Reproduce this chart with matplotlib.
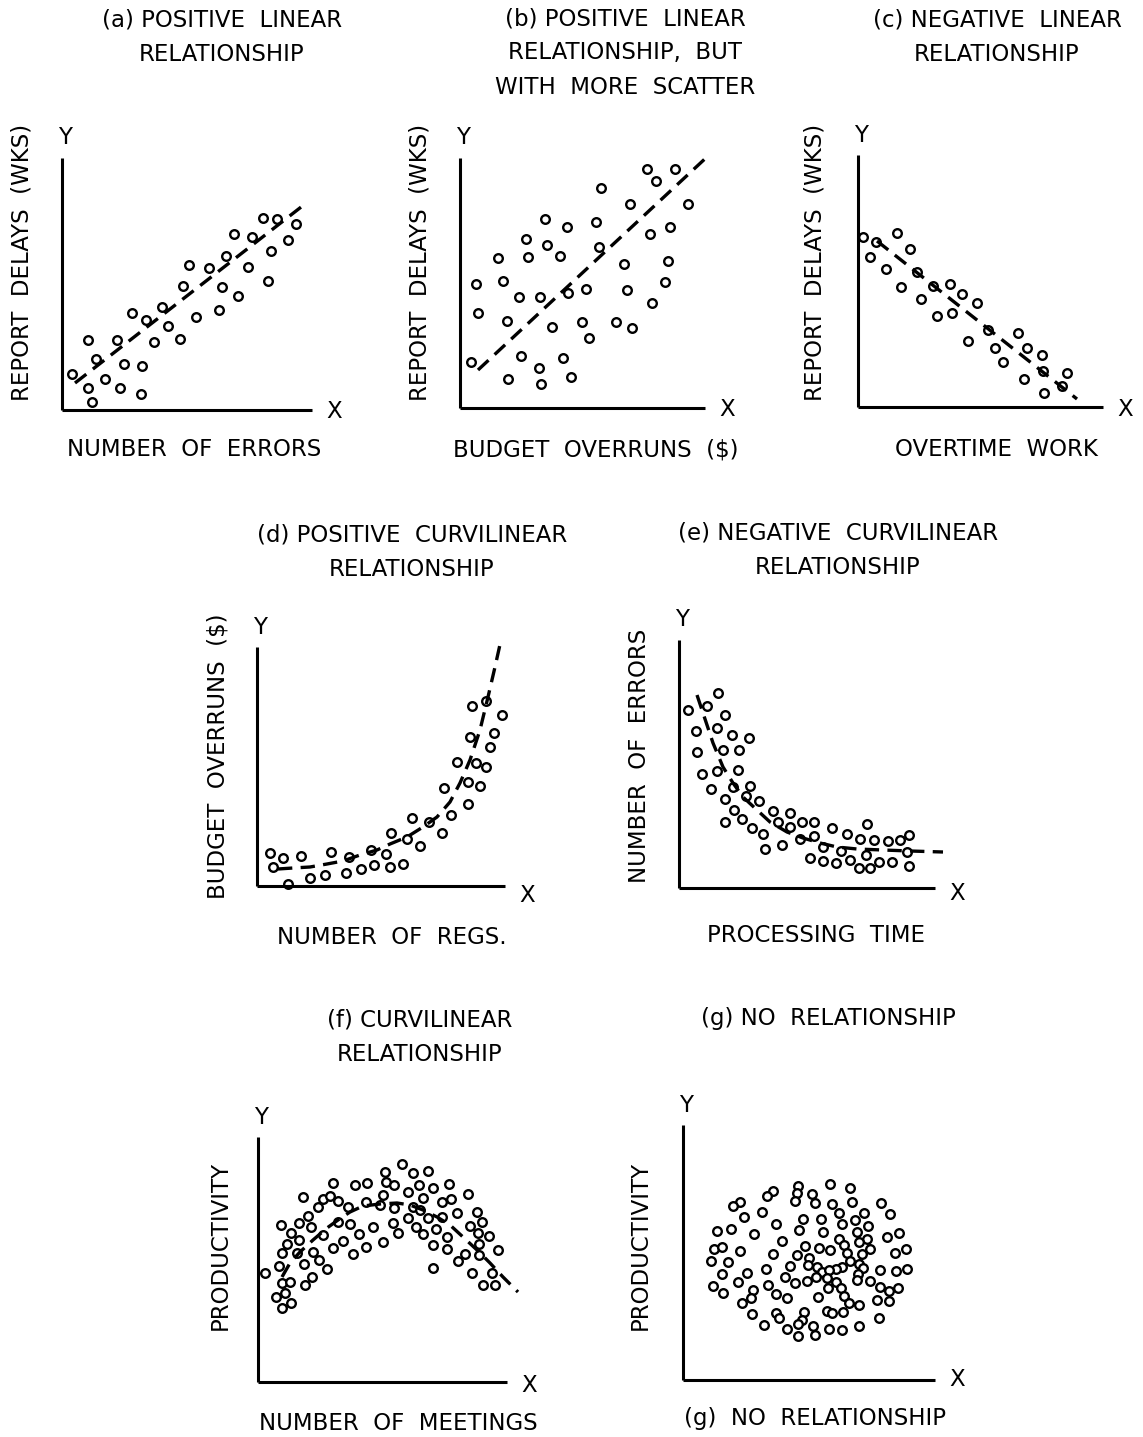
import matplotlib
matplotlib.use("Agg")
import matplotlib.pyplot as plt

FIG_W, FIG_H = 1143, 1437
DPI = 100
FONT = 16.5
AXIS_LW = 2.2

plt.rcParams["font.family"] = ["DejaVu Sans"]

# ---- (a) positive linear ----
a_x = [10, 26, 34, 26, 30, 43, 55, 62, 58, 70, 80, 79, 84, 92, 100, 106, 118, 121, 127, 134,
       147, 157, 160, 164, 172, 176, 186, 190, 201, 206, 209, 215, 226, 234]
a_y = [36, 70, 51, 22, 8, 31, 70, 46, 22, 97, 44, 16, 90, 68, 103, 84, 71, 124, 145, 93,
       142, 100, 123, 154, 176, 114, 143, 173, 192, 129, 159, 191, 170, 186]
a_fit_x = [13, 243]
a_fit_y = [27, 206]

# ---- (b) positive linear, more scatter ----
b_x = [11, 16, 18, 38, 43, 47, 48, 59, 61, 66, 68, 79, 80, 81, 85, 87, 92, 100, 103, 107, 108,
       111, 122, 126, 129, 136, 139, 141, 156, 164, 167, 170, 172, 187, 190, 192, 196, 205, 208,
       210, 215, 228]
b_y = [46, 124, 95, 150, 127, 87, 29, 111, 52, 169, 151, 40, 111, 24, 189, 163, 81, 152, 50, 181,
       115, 31, 86, 119, 70, 186, 161, 220, 86, 144, 118, 204, 80, 239, 174, 105, 227, 126, 147,
       181, 239, 204]
b_fit_x = [18, 248]
b_fit_y = [38, 252]

# ---- (c) negative linear ----
c_x = [5, 12, 18, 28, 39, 43, 52, 59, 63, 75, 79, 92, 94, 104, 110, 119, 130, 137, 145, 160, 166,
       169, 184, 186, 185, 204, 209]
c_y = [170, 150, 165, 138, 174, 120, 158, 135, 108, 121, 91, 123, 94, 113, 66, 104, 77, 59, 45,
       74, 28, 59, 52, 14, 36, 21, 34]
c_fit_x = [19, 219]
c_fit_y = [166, 8]

# ---- (d) positive curvilinear ----
d_x = [13, 16, 26, 31, 44, 53, 68, 74, 89, 92, 104, 114, 117, 129, 133, 134, 146, 150, 155, 163,
       172, 185, 187, 194, 200, 211, 211, 213, 215, 219, 223, 229, 229, 233, 237, 245]
d_y = [33, 19, 28, 2, 30, 8, 11, 34, 13, 29, 17, 36, 21, 32, 19, 53, 22, 47, 68, 40,
       64, 53, 98, 71, 124, 82, 104, 149, 180, 123, 100, 119, 185, 139, 153, 171]
d_curve_x = [21, 36, 53, 70, 86, 103, 120, 133, 150, 166, 180, 193, 203, 213, 223, 231, 238, 244]
d_curve_y = [17, 18, 19, 22, 25, 31, 36, 42, 49, 59, 69, 84, 103, 126, 156, 189, 219, 246]

# ---- (e) negative curvilinear ----
e_x = [9, 28, 39, 17, 38, 46, 18, 44, 53, 60, 70, 23, 38, 59, 32, 54, 71, 46, 67, 80, 55, 46, 63,
       73, 84, 86, 94, 99, 103, 111, 111, 121, 123, 135, 135, 131, 144, 144, 153, 157, 162, 168,
       171, 180, 181, 187, 188, 191, 195, 200, 209, 213, 221, 228, 230, 230]
e_y = [178, 182, 195, 157, 160, 173, 136, 138, 153, 138, 150, 114, 117, 118, 99, 101, 102, 89, 92,
       87, 78, 66, 69, 60, 54, 39, 77, 66, 43, 75, 61, 49, 66, 66, 52, 30, 41, 27, 60, 25, 37, 54,
       28, 20, 49, 33, 64, 20, 48, 26, 47, 26, 48, 36, 53, 22]
e_curve_x = [18, 24, 34, 44, 54, 64, 78, 91, 108, 124, 141, 158, 178, 204, 231, 264]
e_curve_y = [193, 175, 145, 121, 105, 91, 78, 66, 56, 50, 45, 41, 39, 38, 37, 36]

# ---- (f) curvilinear (inverted U) ----
f_x = [7, 21, 23, 24, 29, 33, 24, 32, 18, 27, 39, 41, 41, 45, 46, 50, 53, 47, 54, 55, 61, 60, 65,
       65, 69, 72, 75, 75, 80, 80, 85, 90, 92, 95, 97, 101, 108, 109, 108, 115, 122, 125, 125, 127,
       128, 136, 136, 135, 140, 144, 150, 150, 155, 155, 158, 161, 165, 165, 170, 170, 175, 175,
       175, 178, 184, 189, 189, 191, 193, 199, 200, 207, 210, 212, 214, 219, 220, 221, 221, 224,
       225, 231, 234, 237, 240, 184, 162, 24, 33]
f_y = [109, 116, 157, 129, 138, 149, 99, 100, 85, 89, 129, 142, 159, 185, 118, 166, 155, 97, 105,
       130, 122, 175, 183, 147, 113, 186, 199, 134, 181, 160, 141, 175, 158, 128, 197, 148, 180,
       199, 135, 155, 177, 140, 187, 210, 200, 197, 174, 159, 149, 218, 190, 164, 175, 209, 155,
       197, 184, 148, 164, 211, 194, 137, 114, 153, 180, 145, 133, 198, 183, 169, 121, 128, 188,
       156, 109, 170, 149, 138, 127, 160, 97, 146, 109, 97, 132, 165, 172, 74, 79]
f_curve_x = [24, 32, 42, 55, 69, 80, 92, 105, 122, 139, 152, 165, 179, 192, 205, 219, 232, 245, 260]
f_curve_y = [105, 119, 130, 142, 154, 162, 170, 176, 178, 179, 177, 172, 165, 157, 145, 132, 119,
             105, 90]

# ---- (g) no relationship ----
g_x = [115, 147, 167, 90, 84, 114, 129, 112, 132, 57, 50, 149, 169, 198, 79, 61, 156, 181, 207,
       120, 138, 172, 93, 159, 185, 34, 48, 116, 140, 174, 71, 204, 216, 156, 184, 176, 99, 31,
       39, 57, 122, 136, 147, 161, 187, 223, 90, 114, 164, 179, 212, 28, 45, 126, 167, 125, 176,
       107, 159, 153, 180, 134, 139, 146, 83, 39, 64, 197, 213, 224, 175, 144, 133, 102, 124, 112,
       174, 187, 55, 30, 85, 153, 158, 197, 145, 215, 40, 70, 68, 93, 104, 135, 161, 206, 194, 59,
       166, 176, 206, 69, 93, 96, 121, 144, 149, 160, 119, 115, 196, 81, 104, 130, 146, 159, 176,
       132, 115]
g_y = [194, 196, 192, 189, 184, 187, 186, 179, 177, 178, 174, 176, 178, 177, 168, 163, 167, 167,
       166, 161, 161, 160, 156, 156, 154, 149, 151, 150, 148, 148, 146, 143, 147, 141, 141, 138,
       139, 131, 133, 129, 134, 132, 130, 135, 131, 131, 126, 125, 127, 126, 127, 119, 118, 122,
       119, 115, 116, 114, 113, 111, 112, 113, 108, 110, 111, 106, 107, 110, 109, 111, 106, 102,
       103, 103, 99, 97, 100, 99, 98, 94, 95, 98, 92, 93, 92, 92, 87, 90, 82, 86, 82, 83, 84, 89,
       80, 77, 77, 75, 79, 66, 67, 62, 68, 69, 67, 68, 60, 56, 62, 55, 51, 54, 51, 50, 54, 45, 44]


def fig_text(fig, x, y, s, **kw):
    """Place text by figure pixel position (y measured from the top)."""
    fig.text(x / FIG_W, 1 - y / FIG_H, s, ha="center", va="center", fontsize=FONT,
             linespacing=1.63, **kw)


def panel(fig, x0, y0, xlen, ylen):
    # origin at figure pixel (x0, y0); one data unit = one pixel
    w, h = xlen + 30, ylen + 20
    ax = fig.add_axes((x0 / FIG_W, 1 - y0 / FIG_H, w / FIG_W, h / FIG_H))
    ax.set_xlim(0, w)
    ax.set_ylim(0, h)
    ax.patch.set_visible(False)
    for side in ("top", "right"):
        ax.spines[side].set_visible(False)
    for side in ("left", "bottom"):
        ax.spines[side].set_linewidth(AXIS_LW)
        ax.spines[side].set_capstyle("butt")
    ax.spines["left"].set_bounds(0, ylen)
    ax.spines["bottom"].set_bounds(0, xlen)
    ax.set_xticks([])
    ax.set_yticks([])
    return ax


def draw(ax, xs, ys, fx, fy):
    ax.plot(xs, ys, "o", ms=6.2, mfc="white", mec="black", mew=1.7, clip_on=False, zorder=2)
    ax.plot(fx, fy, color="black", lw=2.4, ls=(0, (4.3, 2.5)), clip_on=False, zorder=3)


fig = plt.figure(figsize=(FIG_W / DPI, FIG_H / DPI), dpi=DPI)

# panel specs: x0, y0 (x-axis row), x length, y length, X-label drop
specs = [
    (a_x, a_y, a_fit_x, a_fit_y, (62, 410, 250, 252, 2)),
    (b_x, b_y, b_fit_x, b_fit_y, (460, 408, 245, 250, 2)),
    (c_x, c_y, c_fit_x, c_fit_y, (858, 407, 245, 252, 3)),
    (d_x, d_y, d_curve_x, d_curve_y, (257, 886, 248, 239, 9)),
    (e_x, e_y, e_curve_x, e_curve_y, (679, 888, 256, 248, 6)),
    (f_x, f_y, f_curve_x, f_curve_y, (258, 1382, 249, 245, 3)),
    (g_x, g_y, [], [], (683, 1380, 252, 255, 0)),
]
for xs, ys, fx, fy, (x0, y0, xl, yl, drop) in specs:
    ax = panel(fig, x0, y0, xl, yl)
    draw(ax, xs, ys, fx, fy)
    fig_text(fig, x0 + 3, y0 - yl - 20, "Y")
    fig_text(fig, x0 + xl + 22, y0 + drop, "X")

# titles
fig_text(fig, 222, 37, "(a) POSITIVE  LINEAR\nRELATIONSHIP")
fig_text(fig, 625, 53, "(b) POSITIVE  LINEAR\nRELATIONSHIP,  BUT\nWITH  MORE  SCATTER")
fig_text(fig, 997, 37, "(c) NEGATIVE  LINEAR\nRELATIONSHIP")
fig_text(fig, 412, 552, "(d) POSITIVE  CURVILINEAR\nRELATIONSHIP")
fig_text(fig, 838, 550, "(e) NEGATIVE  CURVILINEAR\nRELATIONSHIP")
fig_text(fig, 420, 1037, "(f) CURVILINEAR\nRELATIONSHIP")
fig_text(fig, 828, 1018, "(g) NO  RELATIONSHIP")

# x-axis captions
fig_text(fig, 194, 450, "NUMBER  OF  ERRORS")
fig_text(fig, 596, 450, "BUDGET  OVERRUNS  ($)")
fig_text(fig, 996, 450, "OVERTIME  WORK")
fig_text(fig, 392, 937, "NUMBER  OF  REGS.")
fig_text(fig, 816, 936, "PROCESSING  TIME")
fig_text(fig, 398, 1424, "NUMBER  OF  MEETINGS")
fig_text(fig, 815, 1418, "(g)  NO  RELATIONSHIP")

# y-axis captions
fig_text(fig, 22, 262, "REPORT  DELAYS  (WKS)", rotation=90)
fig_text(fig, 420, 262, "REPORT  DELAYS  (WKS)", rotation=90)
fig_text(fig, 815, 262, "REPORT  DELAYS  (WKS)", rotation=90)
fig_text(fig, 218, 756, "BUDGET  OVERRUNS  ($)", rotation=90)
fig_text(fig, 640, 756, "NUMBER  OF  ERRORS", rotation=90)
fig_text(fig, 220, 1245, "PRODUCTIVITY", rotation=90)
fig_text(fig, 640, 1245, "PRODUCTIVITY", rotation=90)

fig.savefig("out.png", dpi=DPI, facecolor="white")
